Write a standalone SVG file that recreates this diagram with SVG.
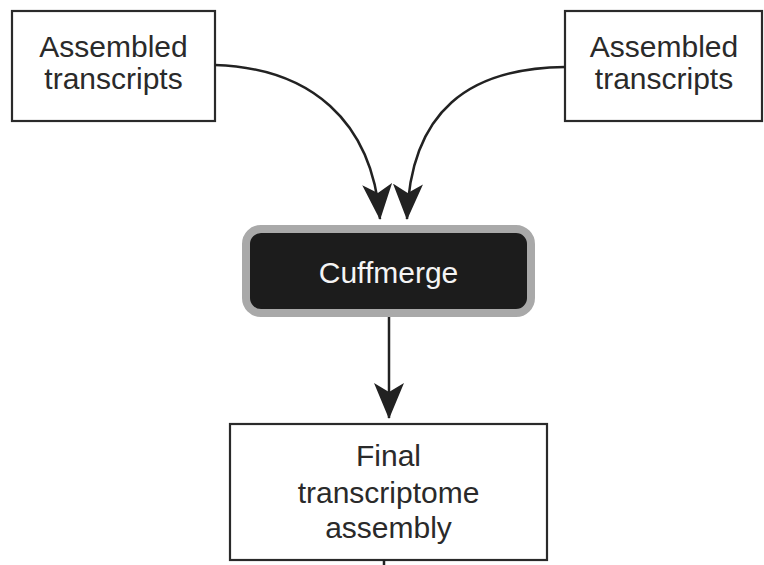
<svg xmlns="http://www.w3.org/2000/svg" width="764" height="565" viewBox="0 0 764 565">
<style>
.box{fill:#fff;stroke:#2a2a2a;stroke-width:2.2}
.t{font-family:"Liberation Sans",Arial,sans-serif;font-size:30px;fill:#2a2a2a;text-anchor:middle}
.w{fill:#f4f4f4}
.c{fill:none;stroke:#222;stroke-width:2.5}
</style>
<defs>
<marker id="ah" viewBox="0 0 36 30" refX="35" refY="15" markerWidth="36" markerHeight="30" markerUnits="userSpaceOnUse" orient="auto">
<path d="M0,0 L36,15 L0,30 L9,15 Z" fill="#222"/>
</marker>
</defs>
<rect width="764" height="565" fill="#fff"/>
<g id="left">
<rect class="box" x="12" y="11" width="203" height="110"/>
<text class="t" x="113.5" y="57">Assembled</text>
<text class="t" x="113.5" y="89">transcripts</text>
</g>
<g id="right">
<rect class="box" x="565" y="11" width="197" height="110"/>
<text class="t" x="664" y="57">Assembled</text>
<text class="t" x="664" y="89">transcripts</text>
</g>
<g id="cuffmerge">
<rect x="246" y="229" width="285" height="84" rx="15" fill="#1c1c1c" stroke="#a9a9a9" stroke-width="8"/>
<text class="t w" x="388.5" y="283">Cuffmerge</text>
</g>
<g id="final">
<rect class="box" x="230" y="424" width="317" height="136"/>
<text class="t" x="388.5" y="466">Final</text>
<text class="t" x="388.5" y="503">transcriptome</text>
<text class="t" x="388.5" y="538">assembly</text>
</g>
<g id="connectors">
<path class="c" d="M215,65 C310,68 372,120 380,219" marker-end="url(#ah)"/>
<path class="c" d="M565,67 C470,68 410,110 407,219" marker-end="url(#ah)"/>
<path class="c" d="M389,317 L389,418" marker-end="url(#ah)"/>
<path class="c" d="M384,560 L384,565"/>
</g>
</svg>
